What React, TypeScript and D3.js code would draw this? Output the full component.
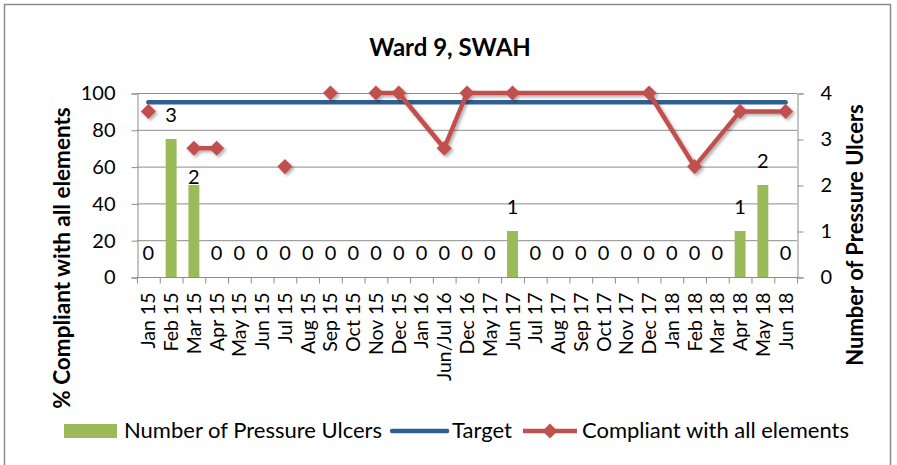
import { useEffect, useRef } from 'react'
import * as d3 from 'd3'

const categories = [
  'Jan 15', 'Feb 15', 'Mar 15', 'Apr 15', 'May 15', 'Jun 15', 'Jul 15', 'Aug 15',
  'Sep 15', 'Oct 15', 'Nov 15', 'Dec 15', 'Jan 16', 'Jun/Jul 16', 'Dec 16', 'May 17',
  'Jun 17', 'Jul 17', 'Aug 17', 'Sep 17', 'Oct 17', 'Nov 17', 'Dec 17', 'Jan 18',
  'Feb 18', 'Mar 18', 'Apr 18', 'May 18', 'Jun 18',
]

const pressureUlcers = [0, 3, 2, 0, 0, 0, 0, 0, 0, 0, 0, 0, 0, 0, 0, 0, 1, 0, 0, 0, 0, 0, 0, 0, 0, 0, 1, 2, 0]

const compliant: (number | null)[] = [
  90, null, 70, 70, null, null, 60, null, 100, null, 100, 100, null, 70, 100, null,
  100, null, null, null, null, null, 100, null, 60, null, 90, null, 90,
]

const target = 95

// from this month on the compliance line bridges empty months
const lineFrom = 'Nov 15'

const leftTicks = [0, 20, 40, 60, 80, 100]
const rightTicks = [0, 1, 2, 3, 4]

const FONT = 'Lato, "Open Sans", sans-serif'

export default function App() {
  const svgRef = useRef<SVGSVGElement>(null)

  useEffect(() => {
    if (!svgRef.current) return
    const svg = d3.select(svgRef.current)
    svg.selectAll('*').remove()

    const width = 897
    const height = 465
    const plot = { left: 137, right: 797, top: 93, bottom: 277 }

    const green = '#9BBB59'
    const blue = '#2F5F92'
    const red = '#C0504D'
    const grid = '#8C8C8C'

    // border
    svg.append('rect')
      .attr('x', 4.5).attr('y', 4.5)
      .attr('width', 886).attr('height', 470)
      .attr('fill', 'white').attr('stroke', '#8C8C8C').attr('stroke-width', 1.5)

    const defs = svg.append('defs')
    const filter = defs.append('filter').attr('id', 'shadow')
      .attr('x', '-20%').attr('y', '-20%').attr('width', '140%').attr('height', '140%')
    filter.append('feDropShadow')
      .attr('dx', 2).attr('dy', 2).attr('stdDeviation', 1.5)
      .attr('flood-color', '#000').attr('flood-opacity', 0.3)

    const x = d3.scaleBand().domain(categories).range([plot.left, plot.right])
    const yLeft = d3.scaleLinear().domain([0, 100]).range([plot.bottom, plot.top])
    const yRight = d3.scaleLinear().domain([0, 4]).range([plot.bottom, plot.top])
    const cx = (c: string) => (x(c) || 0) + x.bandwidth() / 2

    // title
    svg.append('text')
      .attr('x', 450).attr('y', 56)
      .attr('text-anchor', 'middle')
      .style('font-family', FONT).style('font-size', '24px').style('font-weight', 'bold')
      .text('Ward 9, SWAH')

    // gridlines
    svg.append('g').selectAll('line')
      .data(leftTicks)
      .enter().append('line')
      .attr('x1', plot.left).attr('x2', plot.right)
      .attr('y1', d => yLeft(d) + 0.5).attr('y2', d => yLeft(d) + 0.5)
      .attr('stroke', grid).attr('stroke-width', 1)

    // left axis
    const gl = svg.append('g').attr('transform', `translate(${plot.left + 0.5},0.5)`)
      .call(d3.axisLeft(yLeft).tickValues(leftTicks).tickSize(6).tickPadding(16))
    gl.select('.domain').attr('stroke', grid)
    gl.selectAll('.tick line').attr('stroke', grid)
    gl.selectAll('.tick text')
      .style('font-family', FONT).style('font-size', '20px').attr('fill', '#000')

    // right axis
    const gr = svg.append('g').attr('transform', `translate(${plot.right + 0.5},0.5)`)
      .call(d3.axisRight(yRight).tickValues(rightTicks).tickFormat(d3.format('d')).tickSize(6).tickPadding(17))
    gr.select('.domain').attr('stroke', grid)
    gr.selectAll('.tick line').attr('stroke', grid)
    gr.selectAll('.tick text')
      .style('font-family', FONT).style('font-size', '20px').attr('fill', '#000')

    // x axis
    const gx = svg.append('g').attr('transform', `translate(0,${plot.bottom + 0.5})`)
    gx.append('line')
      .attr('x1', plot.left).attr('x2', plot.right)
      .attr('stroke', grid)
    gx.selectAll('.xtick')
      .data(d3.range(categories.length + 1))
      .enter().append('line')
      .attr('class', 'xtick')
      .attr('x1', i => plot.left + i * x.step() + 0.5)
      .attr('x2', i => plot.left + i * x.step() + 0.5)
      .attr('y1', 0).attr('y2', 6)
      .attr('stroke', grid)
    gx.selectAll('.xlabel')
      .data(categories)
      .enter().append('text')
      .attr('class', 'xlabel')
      .attr('transform', d => `translate(${cx(d) + 7},15) rotate(-90)`)
      .attr('text-anchor', 'end')
      .style('font-family', FONT).style('font-size', '19.5px')
      .text(d => d)

    // axis titles
    svg.append('text')
      .attr('transform', `translate(70,258) rotate(-90)`)
      .attr('text-anchor', 'middle')
      .style('font-family', FONT).style('font-size', '22.5px').style('font-weight', 'bold')
      .text('% Compliant with all elements')
    svg.append('text')
      .attr('transform', `translate(863,235) rotate(-90)`)
      .attr('text-anchor', 'middle')
      .style('font-family', FONT).style('font-size', '22px').style('font-weight', 'bold')
      .text('Number of Pressure Ulcers')

    // bars
    const barW = x.bandwidth() * 0.48
    svg.append('g').selectAll('rect')
      .data(pressureUlcers)
      .enter().append('rect')
      .attr('x', (_, i) => cx(categories[i]) - barW / 2)
      .attr('y', d => yRight(d))
      .attr('width', barW)
      .attr('height', d => plot.bottom - yRight(d))
      .attr('fill', green)

    // target line
    svg.append('line')
      .attr('x1', cx(categories[0])).attr('x2', cx(categories[categories.length - 1]))
      .attr('y1', yLeft(target)).attr('y2', yLeft(target))
      .attr('stroke', blue).attr('stroke-width', 4.5).attr('stroke-linecap', 'round')

    // compliance line + markers
    const points = compliant
      .map((v, i) => ({ c: categories[i], v, i }))
      .filter(p => p.v !== null) as { c: string; v: number; i: number }[]
    const startIdx = categories.indexOf(lineFrom)
    const linked = points.filter(p => p.i >= startIdx)
    const line = d3.line<{ c: string; v: number }>()
      .x(d => cx(d.c)).y(d => yLeft(d.v))
    const gRed = svg.append('g').attr('filter', 'url(#shadow)')
    // before lineFrom only neighbouring months are joined
    const pairs: { c: string; v: number }[][] = []
    points.forEach((p, k) => {
      const n = points[k + 1]
      if (n && p.i < startIdx && n.i === p.i + 1) pairs.push([p, n])
    })
    pairs.forEach(pr => {
      gRed.append('path').attr('d', line(pr)).attr('fill', 'none')
        .attr('stroke', red).attr('stroke-width', 4.5)
    })
    gRed.append('path')
      .attr('d', line(linked))
      .attr('fill', 'none').attr('stroke', red).attr('stroke-width', 4.5)
      .attr('stroke-linejoin', 'round')
    const diamond = d3.symbol().type(d3.symbolDiamond2).size(145)
    gRed.selectAll('.marker')
      .data(points)
      .enter().append('path')
      .attr('class', 'marker')
      .attr('d', diamond)
      .attr('transform', d => `translate(${cx(d.c)},${yLeft(d.v)})`)
      .attr('fill', red)

    // bar labels
    const labelNudge: Record<string, number> = { 'Mar 15': 16 }
    svg.append('g').selectAll('text')
      .data(pressureUlcers)
      .enter().append('text')
      .attr('x', (_, i) => cx(categories[i]))
      .attr('y', (d, i) => yRight(d) - 24 + 7 + (labelNudge[categories[i]] || 0))
      .attr('text-anchor', 'middle')
      .style('font-family', FONT).style('font-size', '20px')
      .text(d => d)

    // legend
    const lg = svg.append('g').attr('transform', 'translate(0,431)')
    const legendFont = '22px'
    let lx = 64
    lg.append('rect').attr('x', lx).attr('y', -7).attr('width', 53).attr('height', 14).attr('fill', green)
    lx += 60
    const t1 = lg.append('text').attr('x', lx).attr('y', 7)
      .style('font-family', FONT).style('font-size', legendFont).text('Number of Pressure Ulcers')
    lx += (t1.node() as SVGTextElement).getComputedTextLength() + 10
    lg.append('line').attr('x1', lx).attr('x2', lx + 55).attr('y1', 0).attr('y2', 0)
      .attr('stroke', blue).attr('stroke-width', 4.5).attr('stroke-linecap', 'round')
    lx += 60
    const t2 = lg.append('text').attr('x', lx).attr('y', 7)
      .style('font-family', FONT).style('font-size', legendFont).text('Target')
    lx += (t2.node() as SVGTextElement).getComputedTextLength() + 11
    lg.append('line').attr('x1', lx).attr('x2', lx + 54).attr('y1', 0).attr('y2', 0)
      .attr('stroke', red).attr('stroke-width', 4.5)
    lg.append('path').attr('d', diamond).attr('transform', `translate(${lx + 27},0)`).attr('fill', red)
    lx += 59
    lg.append('text').attr('x', lx).attr('y', 7)
      .style('font-family', FONT).style('font-size', legendFont).text('Compliant with all elements')

    svg.attr('width', width).attr('height', height)
  }, [])

  return (
    <svg ref={svgRef} width={897} height={465}
      style={{ position: 'absolute', left: 0, top: 0, display: 'block', background: 'white' }} />
  )
}
